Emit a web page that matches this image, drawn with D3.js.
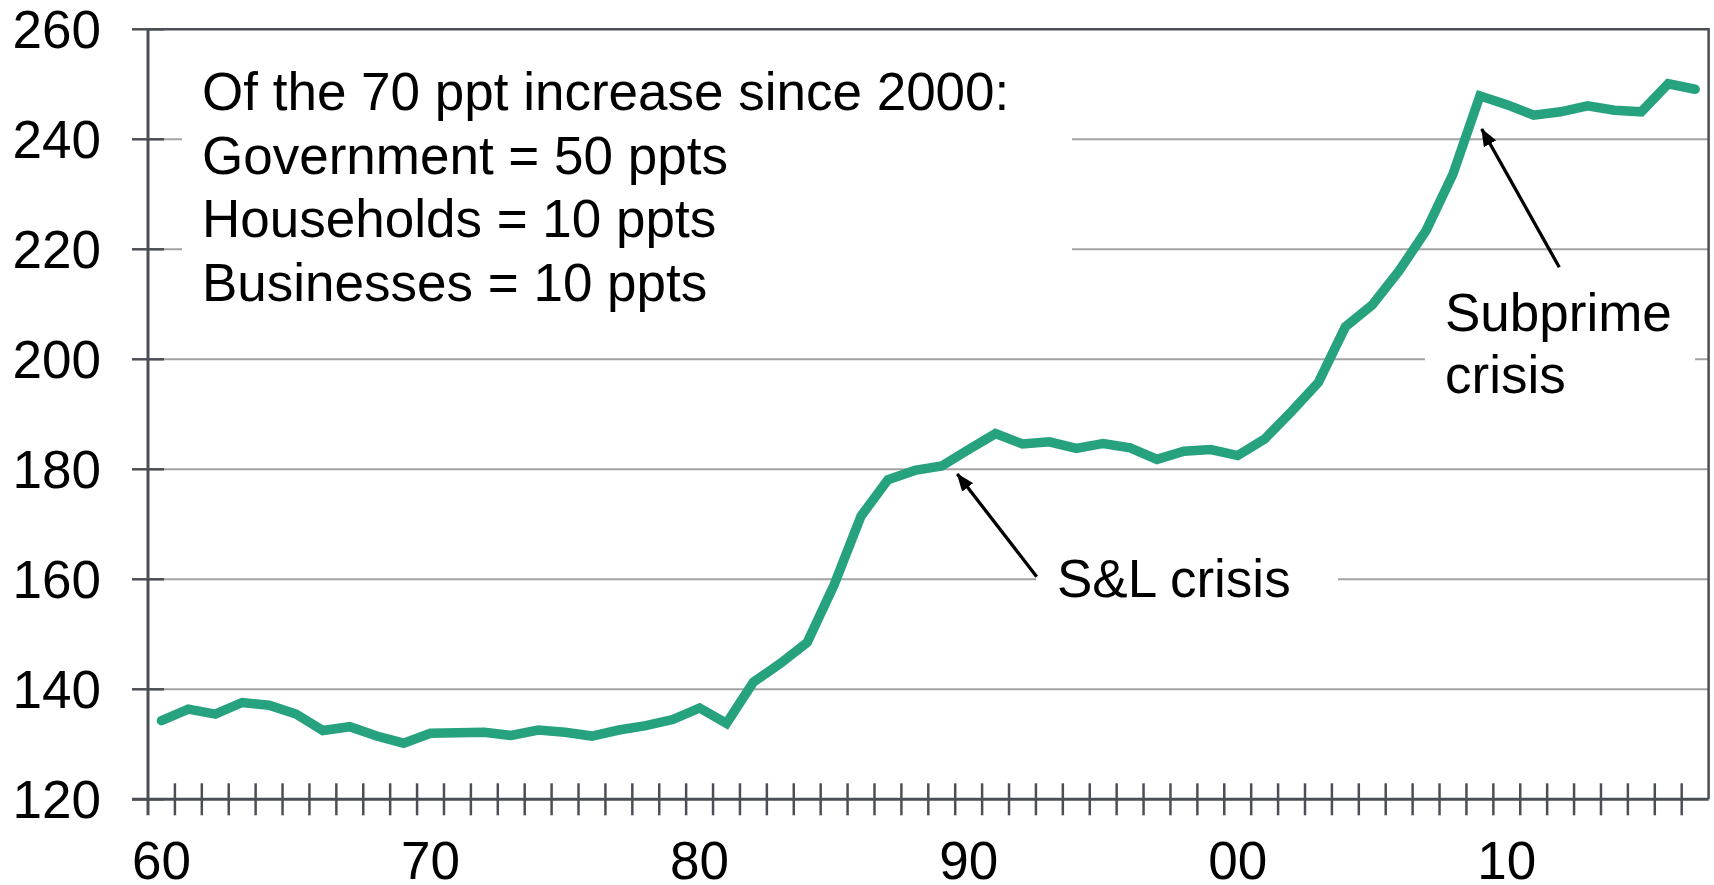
<!DOCTYPE html>
<html>
<head>
<meta charset="utf-8">
<script src="https://cdn.jsdelivr.net/npm/d3@7"></script>
<style>
  html, body { margin: 0; padding: 0; background: #fff; }
  svg { display: block; font-family: "Liberation Sans", Arial, sans-serif; }
</style>
</head>
<body>
<div id="chart"></div>
<script>
// Total debt as % of GDP, 1960-2017

const years = d3.range(1960, 2018);
const debtRatio = [
  134.3, 136.4, 135.5, 137.6, 137.1, 135.5, 132.5, 133.2, 131.5, 130.2,
  132.0, 132.1, 132.2, 131.6, 132.6, 132.2, 131.5, 132.6, 133.4, 134.5,
  136.6, 133.8, 141.3, 144.7, 148.5, 159.0, 171.5, 178.1, 179.8, 180.6,
  183.6, 186.5, 184.6, 185.0, 183.8, 184.7, 183.9, 181.8, 183.3, 183.6,
  182.5, 185.5, 190.5, 195.8, 205.9, 209.9, 216.1, 223.4, 233.7, 247.9,
  246.3, 244.4, 245.0, 246.1, 245.3, 245.0, 250.1, 249.1,
];
const yTicks = [120, 140, 160, 180, 200, 220, 240, 260];
const xLabelYears = [1960, 1970, 1980, 1990, 2000, 2010];
const xLabels = ['60', '70', '80', '90', '00', '10'];
const noteLines = [
  'Of the 70 ppt increase since 2000:',
  'Government = 50 ppts',
  'Households = 10 ppts',
  'Businesses = 10 ppts',
];
const subprimeLines = ['Subprime', 'crisis'];

;(function () {
  ////////////////////////////////////////////////////////////////////////////////
  // Setup
  const width = 1714;
  const height = 885;
  const plot = { left: 148, right: 1708.6, top: 29.3, bottom: 799.3 };
  const axisColor = '#4b4f55';
  const gridColor = '#a3a3a3';
  const lineColor = '#27a27f';
  const fontSize = 53;

  const svg = d3.select('#chart').append('svg')
    .attr('width', width)
    .attr('height', height);

  const xScale = d3.scaleBand()
    .domain(years)
    .range([plot.left, plot.right])
    .padding(0);
  const yScale = d3.scaleLinear()
    .domain([120, 260])
    .range([plot.bottom, plot.top]);

  const defs = svg.append('defs');
  defs.append('marker')
    .attr('id', 'arrow')
    .attr('markerUnits', 'userSpaceOnUse')
    .attr('viewBox', '0 0 18 14')
    .attr('refX', 17)
    .attr('refY', 7)
    .attr('markerWidth', 18)
    .attr('markerHeight', 14)
    .attr('orient', 'auto')
    .append('path')
    .attr('d', 'M0,0 L18,7 L0,14 Z')
    .attr('fill', '#000');

  // Gridlines
  svg.append('g')
    .selectAll('line')
    .data(yTicks.filter(t => t > 120 && t < 260))
    .enter().append('line')
    .attr('x1', plot.left)
    .attr('x2', plot.right)
    .attr('y1', d => yScale(d))
    .attr('y2', d => yScale(d))
    .attr('stroke', gridColor)
    .attr('stroke-width', 2);

  // White boxes behind the annotations (they hide the gridlines)
  const boxes = [
    { x: 182, y: 62, w: 890, h: 250 },
    { x: 1036, y: 545, w: 302, h: 65 },
    { x: 1425, y: 285, w: 270, h: 125 },
  ];
  svg.append('g')
    .selectAll('rect')
    .data(boxes)
    .enter().append('rect')
    .attr('x', d => d.x)
    .attr('y', d => d.y)
    .attr('width', d => d.w)
    .attr('height', d => d.h)
    .attr('fill', '#fff');

  // Frame: top and right border
  svg.append('path')
    .attr('d', `M${plot.left},${plot.top} H${plot.right} V${plot.bottom}`)
    .attr('fill', 'none')
    .attr('stroke', axisColor)
    .attr('stroke-width', 2.5);

  // Y axis
  svg.append('line')
    .attr('x1', plot.left).attr('x2', plot.left)
    .attr('y1', plot.top).attr('y2', plot.bottom + 16)
    .attr('stroke', axisColor)
    .attr('stroke-width', 3);

  svg.append('g')
    .selectAll('line')
    .data(yTicks)
    .enter().append('line')
    .attr('x1', plot.left - 16)
    .attr('x2', plot.left + 16)
    .attr('y1', d => yScale(d))
    .attr('y2', d => yScale(d))
    .attr('stroke', axisColor)
    .attr('stroke-width', 2.5);

  svg.append('g')
    .selectAll('text')
    .data(yTicks)
    .enter().append('text')
    .attr('x', 101)
    .attr('y', d => yScale(d) + 19)
    .attr('text-anchor', 'end')
    .attr('font-size', fontSize)
    .attr('fill', '#000')
    .text(d => d);

  // X axis
  svg.append('line')
    .attr('x1', plot.left - 16).attr('x2', plot.right)
    .attr('y1', plot.bottom).attr('y2', plot.bottom)
    .attr('stroke', axisColor)
    .attr('stroke-width', 3);

  svg.append('g')
    .selectAll('line')
    .data(years.slice(1))
    .enter().append('line')
    .attr('x1', d => xScale(d))
    .attr('x2', d => xScale(d))
    .attr('y1', plot.bottom - 16)
    .attr('y2', plot.bottom + 16)
    .attr('stroke', axisColor)
    .attr('stroke-width', 2.5);

  svg.append('g')
    .selectAll('text')
    .data(xLabelYears)
    .enter().append('text')
    .attr('x', d => xScale(d) + xScale.bandwidth() / 2)
    .attr('y', 879)
    .attr('text-anchor', 'middle')
    .attr('font-size', fontSize)
    .attr('fill', '#000')
    .text((d, i) => xLabels[i]);

  // Series
  const line = d3.line()
    .x((d, i) => xScale(years[i]) + xScale.bandwidth() / 2)
    .y(d => yScale(d));

  svg.append('path')
    .datum(debtRatio)
    .attr('d', line)
    .attr('fill', 'none')
    .attr('stroke', lineColor)
    .attr('stroke-width', 9.5)
    .attr('stroke-linejoin', 'miter')
    .attr('stroke-linecap', 'round');

  // Annotations
  svg.append('g')
    .selectAll('text')
    .data(noteLines)
    .enter().append('text')
    .attr('x', 202)
    .attr('y', (d, i) => 110 + i * 63.5)
    .attr('font-size', fontSize)
    .attr('fill', '#000')
    .text(d => d);

  svg.append('text')
    .attr('x', 1057)
    .attr('y', 596.7)
    .attr('font-size', fontSize)
    .attr('fill', '#000')
    .text('S&L crisis');

  svg.append('g')
    .selectAll('text')
    .data(subprimeLines)
    .enter().append('text')
    .attr('x', 1445)
    .attr('y', (d, i) => 330.7 + i * 62.7)
    .attr('font-size', fontSize)
    .attr('fill', '#000')
    .text(d => d);

  const arrows = [
    { x1: 1036.7, y1: 576.7, x2: 957.3, y2: 474 },
    { x1: 1559.3, y1: 267.3, x2: 1481.7, y2: 129 },
  ];
  svg.append('g')
    .selectAll('line')
    .data(arrows)
    .enter().append('line')
    .attr('x1', d => d.x1)
    .attr('y1', d => d.y1)
    .attr('x2', d => d.x2)
    .attr('y2', d => d.y2)
    .attr('stroke', '#000')
    .attr('stroke-width', 3.3)
    .attr('marker-end', 'url(#arrow)');
})();
</script>
</body>
</html>
